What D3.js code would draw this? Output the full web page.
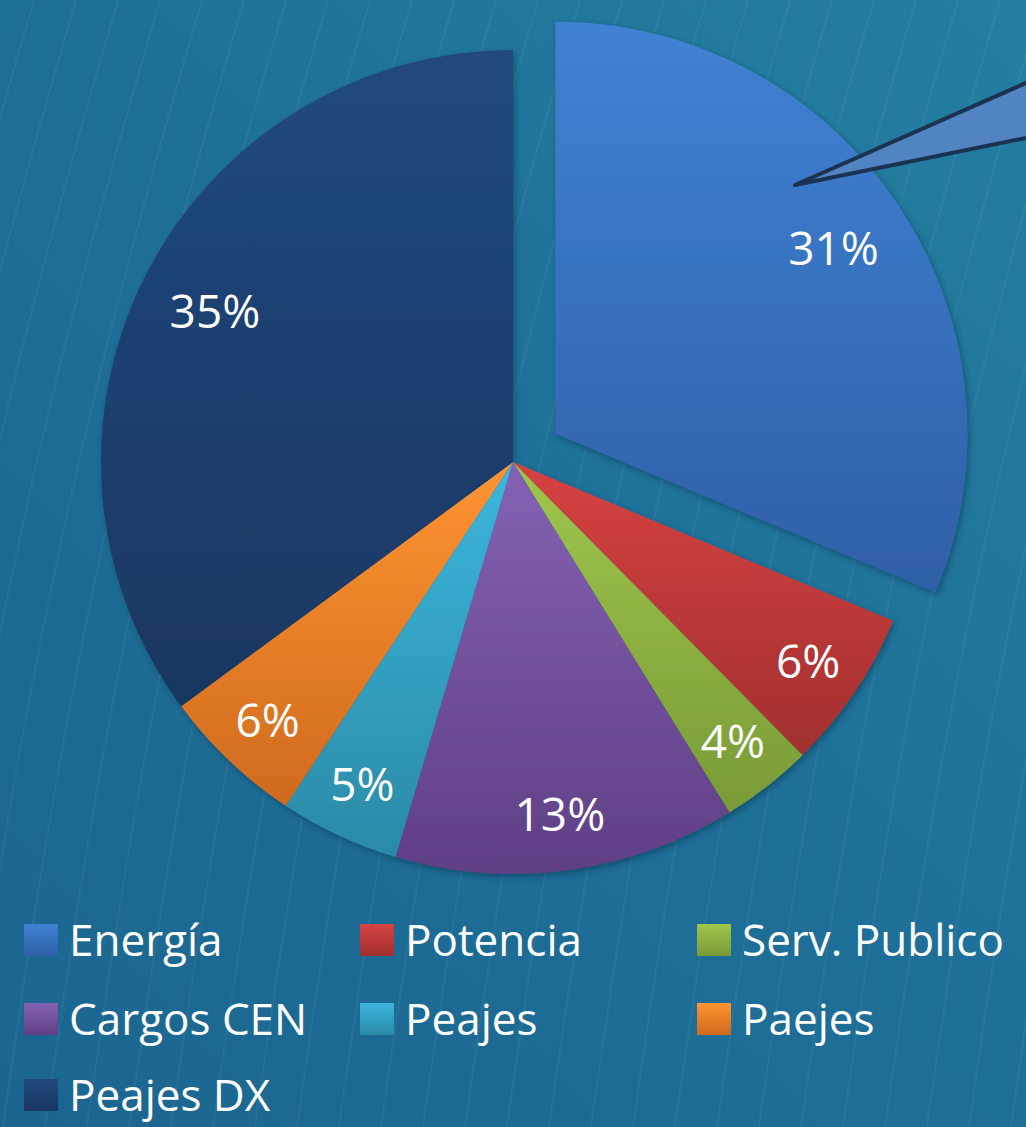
<!DOCTYPE html>
<html>
<head>
<meta charset="utf-8">
<script src="https://cdn.jsdelivr.net/npm/d3@7"></script>
<style>
  html, body { margin: 0; padding: 0; background: #1d6c96; }
  #chart { width: 1026px; height: 1127px; }
</style>
</head>
<body>
<div id="chart"></div>
<script>
const categories = ["Energía", "Potencia", "Serv. Publico", "Cargos CEN", "Peajes", "Paejes", "Peajes DX"];
const shares = [31.3, 6.3, 3.6, 13.4, 4.7, 5.6, 35.1];
const topColors = ["#4082d4", "#d64242", "#a0c64c", "#8462b4", "#3cb6dc", "#ff9432", "#21497f"];
const bottomColors = ["#2f5fa6", "#a22f2f", "#799a36", "#5f3f84", "#2a8aa6", "#cf6a1e", "#193760"];

function drawPie() {
  const width = 1026, height = 1127;
  const cx = 513, cy = 462, radius = 412;
  const explode = 51;

  const svg = d3.select("#chart").html("")
    .append("svg")
    .attr("width", width)
    .attr("height", height);

  const defs = svg.append("defs");

  const bg = defs.append("linearGradient").attr("id", "bg")
    .attr("x1", 1).attr("y1", 0).attr("x2", 0).attr("y2", 1);
  bg.append("stop").attr("offset", 0).attr("stop-color", "#247fa0");
  bg.append("stop").attr("offset", 0.5).attr("stop-color", "#1e6f98");
  bg.append("stop").attr("offset", 1).attr("stop-color", "#1b6690");

  categories.forEach((c, i) => {
    const g = defs.append("linearGradient").attr("id", "grad" + i)
      .attr("x1", 0).attr("y1", 0).attr("x2", 0).attr("y2", 1);
    g.append("stop").attr("offset", 0).attr("stop-color", topColors[i]);
    g.append("stop").attr("offset", 1).attr("stop-color", bottomColors[i]);
  });

  const shadow = defs.append("filter").attr("id", "shadow")
    .attr("x", "-10%").attr("y", "-10%").attr("width", "120%").attr("height", "120%");
  shadow.append("feDropShadow")
    .attr("dx", 2).attr("dy", 3).attr("stdDeviation", 3)
    .attr("flood-color", "#0a2a40").attr("flood-opacity", 0.45);

  svg.append("rect").attr("width", width).attr("height", height).attr("fill", "url(#bg)");

  // faint wavy background lines
  const waves = svg.append("g").attr("fill", "none").attr("stroke", "#ffffff")
    .attr("stroke-opacity", 0.05).attr("stroke-width", 2);
  const waveLine = d3.line().curve(d3.curveBasis);
  d3.range(-12, 34).forEach(k => {
    const x0 = k * 42;
    waves.append("path").attr("d", waveLine([
      [x0, height + 20], [x0 + 50, 800], [x0 + 120, 450], [x0 + 200, 150], [x0 + 250, -20]
    ]));
  });

  const pie = d3.pie().sort(null).value(d => d);
  const arcs = pie(shares);
  const arc = d3.arc().innerRadius(0).outerRadius(radius);

  const offsetOf = (d, i) => {
    if (i !== 0) return [0, 0];
    const a = (d.startAngle + d.endAngle) / 2;
    return [explode * Math.sin(a), -explode * Math.cos(a)];
  };

  const slices = svg.append("g").attr("filter", "url(#shadow)");
  slices.selectAll("path")
    .data(arcs)
    .join("path")
    .attr("transform", (d, i) => {
      const o = offsetOf(d, i);
      return `translate(${cx + o[0]},${cy + o[1]})`;
    })
    .attr("d", arc)
    .attr("fill", (d, i) => `url(#grad${i})`);

  // callout pointer
  svg.append("path")
    .attr("d", "M795,185 L1060,68 L1060,131 Z")
    .attr("fill", "#5184c0")
    .attr("stroke", "#1b3352")
    .attr("stroke-width", 4)
    .attr("stroke-linejoin", "round");

  // percentage labels
  svg.append("g").selectAll("text")
    .data(arcs)
    .join("text")
    .attr("transform", (d, i) => {
      const o = offsetOf(d, i);
      const a = (d.startAngle + d.endAngle) / 2;
      const r = d.data > 20 ? 334 : 356;
      return `translate(${cx + o[0] + r * Math.sin(a)},${cy + o[1] - r * Math.cos(a)})`;
    })
    .attr("text-anchor", "middle")
    .attr("dy", "0.36em")
    .attr("fill", "#ffffff")
    .style("font-family", "'Open Sans', sans-serif")
    .style("font-size", "46px")
    .text(d => Math.round(d.data) + "%");

  // legend
  const colX = [24, 360, 697];
  const rowY = [940, 1019, 1095];
  const legend = svg.append("g");
  categories.forEach((c, i) => {
    const x = colX[i % 3], y = rowY[Math.floor(i / 3)];
    legend.append("rect")
      .attr("x", x).attr("y", y - 16)
      .attr("width", 34).attr("height", 32)
      .attr("fill", `url(#grad${i})`);
    legend.append("text")
      .attr("x", x + 45).attr("y", y)
      .attr("dy", "0.36em")
      .attr("fill", "#ffffff")
      .style("font-family", "'Open Sans', sans-serif")
      .style("font-size", "44px")
      .text(c);
  });
}
drawPie();
</script>
</body>
</html>
